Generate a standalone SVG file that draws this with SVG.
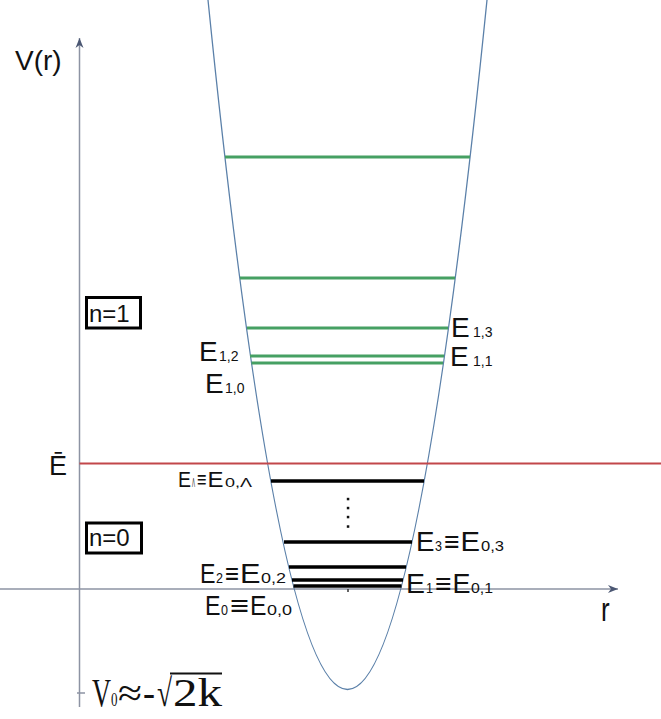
<svg xmlns="http://www.w3.org/2000/svg" width="661" height="719" viewBox="0 0 661 719">
<style>
.t{font-family:"Liberation Sans",Arial,sans-serif;fill:#111}
.E{font-size:28px}
.s{font-size:14px}
.eq{font-size:28px;font-weight:bold}
.g{stroke:#46a063;stroke-width:3;fill:none}
.k{stroke:#000;stroke-width:3.5;fill:none}
.ax{stroke:#8d93a3;stroke-width:1.5;fill:none}
.box{fill:#fff;stroke:#000;stroke-width:3}
</style>
<defs>
<marker id="ah" viewBox="0 0 12 10" refX="11" refY="5" markerWidth="12" markerHeight="10" markerUnits="userSpaceOnUse" orient="auto">
<path d="M1,1 L11,5 L1,9 L4,5 z" fill="#4b5773"/>
</marker>
</defs>
<rect width="661" height="719" fill="#fff"/>
<g id="connectors">
<line id="v-axis" class="ax" x1="79.5" y1="707" x2="79.5" y2="38" marker-end="url(#ah)"/>
<line id="r-axis" class="ax" x1="0" y1="589" x2="618" y2="589" marker-end="url(#ah)"/>
<line class="ax" x1="77" y1="693" x2="85" y2="693"/>
<line x1="348" y1="589" x2="348" y2="592" stroke="#333" stroke-width="1.5"/>
<path id="potential" d="M208,0 Q347.5,1379 487,0" fill="none" stroke="#5b80a9" stroke-width="1.3"/>
<line id="Ebar-line" x1="79.5" y1="463.5" x2="661" y2="463.5" stroke="#c2474a" stroke-width="2"/>
</g>
<g id="levels-n1">
<line class="g" x1="225" y1="157" x2="470" y2="157"/>
<line class="g" x1="240" y1="278" x2="455" y2="278"/>
<line class="g" x1="247" y1="328" x2="448" y2="328"/>
<line class="g" x1="250" y1="356" x2="444" y2="356"/>
<line class="g" x1="251.5" y1="363" x2="443" y2="363"/>
</g>
<g id="levels-n0">
<line class="k" x1="271" y1="481" x2="424" y2="481"/>
<line class="k" x1="284" y1="542" x2="412" y2="542"/>
<line class="k" x1="289" y1="567" x2="406" y2="567"/>
<line class="k" x1="292" y1="580" x2="403" y2="580"/>
<line class="k" x1="293.5" y1="586" x2="401.5" y2="586"/>
<g fill="#111">
<rect x="346.8" y="497.8" width="2.5" height="2.5"/>
<rect x="346.8" y="506.8" width="2.5" height="2.5"/>
<rect x="346.8" y="515.8" width="2.5" height="2.5"/>
<rect x="346.8" y="525.3" width="2.5" height="2.5"/>
</g>
</g>
<g id="axis-labels">
<text class="t" x="15" y="70" font-size="28" fill="#333">V(r)</text>
<text class="t" transform="translate(601,621) scale(1,1.3)" font-size="26" fill="#333">r</text>
<text class="t" x="49" y="475" font-size="27">Ē</text>
</g>
<g id="n1-box">
<rect class="box" x="86.5" y="297.5" width="54" height="30.5"/>
<text class="t" x="89" y="322" font-size="24">n=1</text>
</g>
<g id="n0-box">
<rect class="box" x="86.5" y="523" width="55" height="30"/>
<text class="t" x="89" y="546" font-size="24">n=0</text>
</g>
<g id="E12"><text class="t" y="361"><tspan class="E" x="199">E</tspan><tspan class="s" x="219">1,2</tspan></text></g>
<g id="E10"><text class="t" y="393"><tspan class="E" x="205">E</tspan><tspan class="s" x="225">1,0</tspan></text></g>
<g id="E13"><text class="t" y="337"><tspan class="E" x="451">E</tspan><tspan class="s" x="473">1,3</tspan></text></g>
<g id="E11"><text class="t" y="366"><tspan class="E" x="450">E</tspan><tspan class="s" x="473">1,1</tspan></text></g>
<g id="ELambda">
<text class="t" y="487"><tspan x="178" font-size="22" textLength="13" lengthAdjust="spacingAndGlyphs">E</tspan><tspan x="192" font-size="12" textLength="3" lengthAdjust="spacingAndGlyphs">Λ</tspan><tspan x="197" font-size="22" font-weight="bold" textLength="9.5" lengthAdjust="spacingAndGlyphs">≡</tspan><tspan x="207.5" font-size="22" textLength="16" lengthAdjust="spacingAndGlyphs">E</tspan><tspan x="225" font-size="13" textLength="27" lengthAdjust="spacingAndGlyphs">0,Λ</tspan></text>
</g>
<g id="E3">
<text class="t" y="551"><tspan class="E" x="416" textLength="18.5" lengthAdjust="spacingAndGlyphs">E</tspan><tspan class="s" x="435" textLength="7" lengthAdjust="spacingAndGlyphs">3</tspan><tspan class="eq" x="444" textLength="15.5" lengthAdjust="spacingAndGlyphs">≡</tspan><tspan class="E" x="460.5" textLength="19.5" lengthAdjust="spacingAndGlyphs">E</tspan><tspan class="s" x="481" textLength="23" lengthAdjust="spacingAndGlyphs">0,3</tspan></text>
</g>
<g id="E1">
<text class="t" y="593"><tspan class="E" x="406" textLength="19" lengthAdjust="spacingAndGlyphs">E</tspan><tspan class="s" x="426" textLength="7" lengthAdjust="spacingAndGlyphs">1</tspan><tspan class="eq" x="435" textLength="16.5" lengthAdjust="spacingAndGlyphs">≡</tspan><tspan class="E" x="452.5" textLength="18" lengthAdjust="spacingAndGlyphs">E</tspan><tspan class="s" x="471" textLength="22" lengthAdjust="spacingAndGlyphs">0,1</tspan></text>
</g>
<g id="E2">
<text class="t" y="583"><tspan class="E" x="200" textLength="15.5" lengthAdjust="spacingAndGlyphs">E</tspan><tspan class="s" x="216" textLength="7" lengthAdjust="spacingAndGlyphs">2</tspan><tspan class="eq" x="225" textLength="14" lengthAdjust="spacingAndGlyphs">≡</tspan><tspan class="E" x="240" textLength="20.5" lengthAdjust="spacingAndGlyphs">E</tspan><tspan class="s" x="261" textLength="25" lengthAdjust="spacingAndGlyphs">0,2</tspan></text>
</g>
<g id="E0">
<text class="t" y="615"><tspan class="E" x="205" textLength="15.5" lengthAdjust="spacingAndGlyphs">E</tspan><tspan class="s" x="221" textLength="7" lengthAdjust="spacingAndGlyphs">0</tspan><tspan class="eq" x="230" textLength="19" lengthAdjust="spacingAndGlyphs">≡</tspan><tspan class="E" x="250" textLength="16.5" lengthAdjust="spacingAndGlyphs">E</tspan><tspan class="s" x="267" textLength="25" lengthAdjust="spacingAndGlyphs">0,0</tspan></text>
</g>
<g id="V0-label" font-family="'Liberation Serif','Times New Roman',serif" fill="#111">
<text transform="translate(0,706) scale(1,1.5)" y="0"><tspan x="92" font-size="26" textLength="19" lengthAdjust="spacingAndGlyphs">V</tspan><tspan x="111" font-size="13" textLength="6.5" lengthAdjust="spacingAndGlyphs">0</tspan><tspan x="118" font-size="26" textLength="24" lengthAdjust="spacingAndGlyphs">≈</tspan><tspan x="143" font-size="26" textLength="12" lengthAdjust="spacingAndGlyphs">-</tspan><tspan x="157" font-size="26" textLength="15" lengthAdjust="spacingAndGlyphs">√</tspan><tspan x="173" font-size="26" textLength="49" lengthAdjust="spacingAndGlyphs">2k</tspan></text>
<line x1="170" y1="673.5" x2="222" y2="673.5" stroke="#111" stroke-width="1.8"/>
</g>
</svg>
